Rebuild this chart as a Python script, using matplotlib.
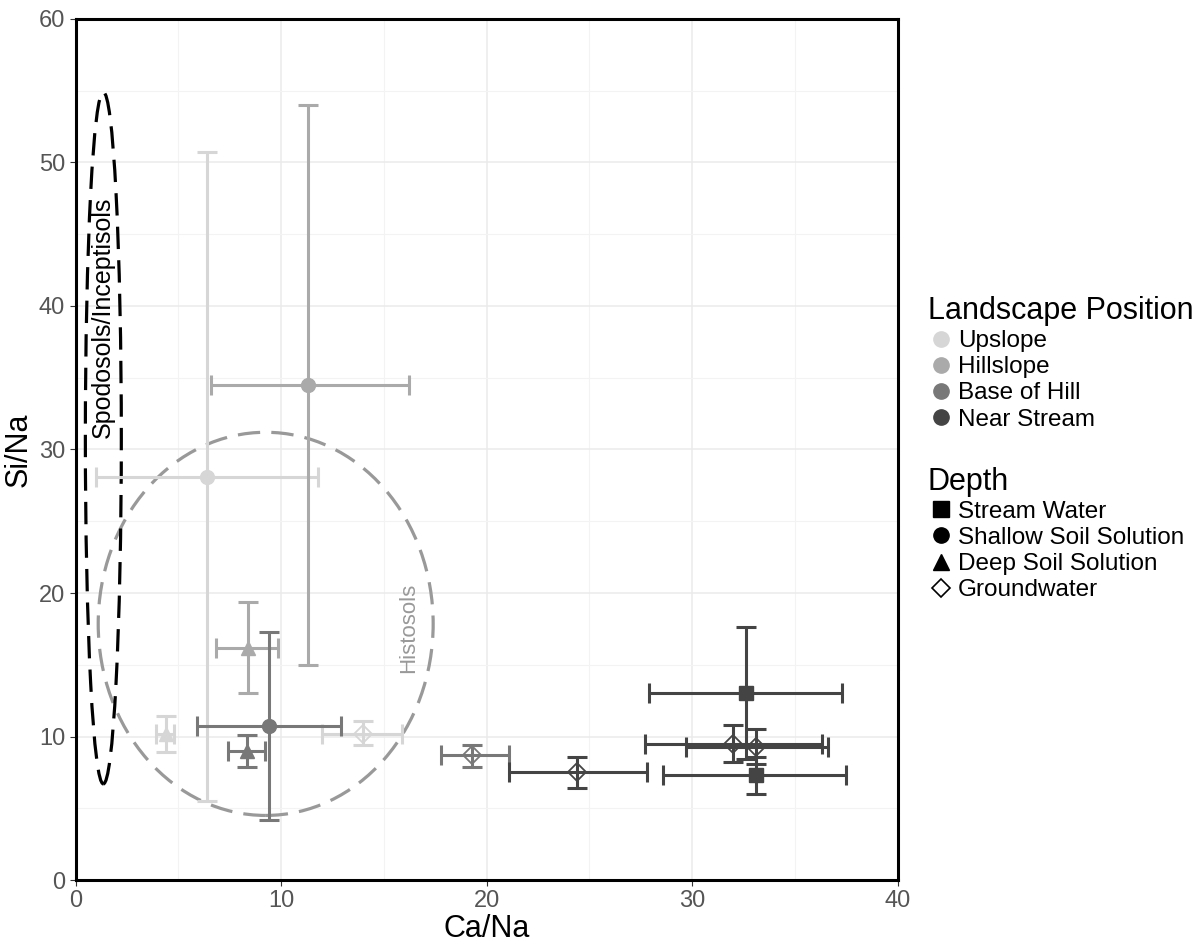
import numpy as np
import matplotlib
matplotlib.use("Agg")
import matplotlib.pyplot as plt
from matplotlib.patches import Ellipse
from matplotlib.lines import Line2D

plt.rcParams["font.family"] = ["Liberation Sans", "DejaVu Sans"]

# data (mean with error bar ends)
position = ["Upslope", "Upslope", "Upslope",
            "Hillslope", "Hillslope",
            "Base of Hill", "Base of Hill", "Base of Hill",
            "Near Stream", "Near Stream", "Near Stream", "Near Stream", "Near Stream"]
depth = ["Shallow Soil Solution", "Deep Soil Solution", "Groundwater",
         "Shallow Soil Solution", "Deep Soil Solution",
         "Shallow Soil Solution", "Deep Soil Solution", "Groundwater",
         "Groundwater", "Stream Water", "Stream Water", "Groundwater", "Groundwater"]
ca_na = [6.4, 4.4, 14.0, 11.3, 8.4, 9.4, 8.35, 19.3, 24.4, 32.6, 33.1, 32.0, 33.1]
ca_lo = [1.0, 3.9, 12.0, 6.6, 6.85, 5.9, 7.4, 17.8, 21.1, 27.9, 28.6, 27.7, 29.7]
ca_hi = [11.8, 4.8, 15.9, 16.2, 9.85, 12.9, 9.2, 21.1, 27.8, 37.3, 37.5, 36.3, 36.6]
si_na = [28.1, 10.2, 10.2, 34.5, 16.2, 10.7, 9.0, 8.7, 7.5, 13.0, 7.3, 9.5, 9.3]
si_lo = [5.5, 8.9, 9.4, 15.0, 13.0, 4.2, 7.9, 7.9, 6.4, 8.4, 6.0, 8.2, 8.1]
si_hi = [50.7, 11.4, 11.1, 54.0, 19.4, 17.3, 10.1, 9.4, 8.6, 17.6, 8.6, 10.8, 10.5]

positions = ["Upslope", "Hillslope", "Base of Hill", "Near Stream"]
pos_colors = ["#d6d6d6", "#aaaaaa", "#787878", "#444444"]
depths = ["Stream Water", "Shallow Soil Solution", "Deep Soil Solution", "Groundwater"]
depth_markers = ["s", "o", "^", "D"]

fig = plt.figure(figsize=(12, 9.48), dpi=100)
ax = fig.add_axes([0.063, 0.0717, 0.685, 0.9083])

# ellipses around soil order groups
ax.add_patch(Ellipse((9.25, 17.85), 16.3, 26.7, fill=False, ec="#999999",
                     lw=2.3, ls=(0, (7, 3.5)), zorder=2))
ax.add_patch(Ellipse((1.35, 30.8), 1.75, 48.2, fill=False, ec="black",
                     lw=2.3, ls=(0, (7, 3.5)), zorder=2))
ax.text(1.3, 39.2, "Spodosols/Inceptisols", rotation=90, ha="center", va="center",
        fontsize=18, color="black")
ax.text(16.2, 17.6, "Histosols", rotation=90, ha="center", va="center",
        fontsize=16, color="#999999")

for i in range(len(ca_na)):
    col = pos_colors[positions.index(position[i])]
    mk = depth_markers[depths.index(depth[i])]
    xerr = [[ca_na[i] - ca_lo[i]], [ca_hi[i] - ca_na[i]]]
    yerr = [[si_na[i] - si_lo[i]], [si_hi[i] - si_na[i]]]
    ax.errorbar(ca_na[i], si_na[i], xerr=xerr, yerr=yerr, fmt="none",
                ecolor=col, elinewidth=2.2, capsize=7, capthick=2.2, zorder=3)
    if mk == "D":
        ax.plot(ca_na[i], si_na[i], marker="D", ms=9, mfc="none", mec=col,
                mew=1.3, ls="none", zorder=4)
    else:
        ax.plot(ca_na[i], si_na[i], marker=mk, ms=10, color=col, ls="none", zorder=4)

ax.set_xlim(0, 40)
ax.set_ylim(0, 60)
ax.set_xticks([0, 10, 20, 30, 40])
ax.set_yticks([0, 10, 20, 30, 40, 50, 60])
ax.set_xticks([5, 15, 25, 35], minor=True)
ax.set_yticks([5, 15, 25, 35, 45, 55], minor=True)
ax.grid(True, which="major", color="#ebebeb", lw=1.1)
ax.grid(True, which="minor", color="#f3f3f3", lw=0.8)
ax.set_axisbelow(True)
for s in ax.spines.values():
    s.set_color("black")
    s.set_linewidth(2.2)
ax.tick_params(which="major", length=4, color="#333333", labelsize=17,
               labelcolor="#555555")
ax.tick_params(which="minor", length=0)
ax.set_xlabel("Ca/Na", fontsize=22, labelpad=1)
ax.set_ylabel("Si/Na", fontsize=22, labelpad=4)

h1 = [Line2D([], [], marker="o", ls="none", ms=11, color=c) for c in pos_colors]
leg1 = fig.legend(h1, positions, title="Landscape Position", loc="upper left",
                  bbox_to_anchor=(0.765, 0.698), frameon=False, fontsize=17.5,
                  title_fontsize=22, alignment="left", handletextpad=0.15,
                  labelspacing=0.17, handlelength=1.1, borderaxespad=0)
h2 = []
for m in depth_markers:
    if m == "D":
        h2.append(Line2D([], [], marker="D", ls="none", ms=9, mfc="none",
                         mec="black", mew=1.2))
    else:
        h2.append(Line2D([], [], marker=m, ls="none", ms=11, color="black"))
leg2 = fig.legend(h2, depths, title="Depth", loc="upper left",
                  bbox_to_anchor=(0.765, 0.518), frameon=False, fontsize=17.5,
                  title_fontsize=22, alignment="left", handletextpad=0.15,
                  labelspacing=0.17, handlelength=1.1, borderaxespad=0)

fig.savefig("out.png", dpi=100)
